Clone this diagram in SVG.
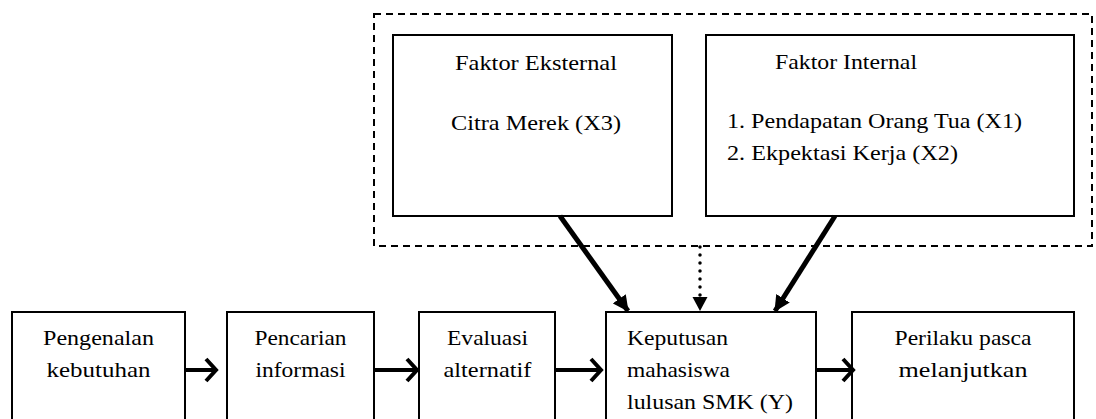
<svg xmlns="http://www.w3.org/2000/svg" width="1096" height="419" viewBox="0 0 1096 419">
<style>
.box{fill:#fff;stroke:#000;stroke-width:2}
.t{font-family:'Liberation Serif','Times New Roman',Times,serif;font-size:22px;fill:#000}
.m{text-anchor:middle}
.thick{stroke:#000;stroke-width:5;fill:none}
.h{stroke:#000;stroke-width:4;fill:none}
</style>
<defs>
<marker id="tri" markerUnits="userSpaceOnUse" markerWidth="18" markerHeight="16" refX="15" refY="8" orient="auto" viewBox="0 0 18 16">
<path d="M0,0 L16,8 L0,16 Z" fill="#000"/>
</marker>
<marker id="chev" markerUnits="userSpaceOnUse" markerWidth="16" markerHeight="26" refX="12" refY="13" orient="auto" viewBox="0 0 16 26">
<path d="M2,2 L12,13 L2,24" fill="none" stroke="#000" stroke-width="4"/>
</marker>
</defs>
<rect width="1096" height="419" fill="#fff"/>
<g id="group-factors">
<rect x="374" y="14" width="718" height="232" fill="none" stroke="#000" stroke-width="2" stroke-dasharray="7 5"/>
</g>
<g id="node-eksternal">
<rect class="box" x="393" y="35" width="279" height="181"/>
<text class="t m" x="536" y="70" textLength="162" lengthAdjust="spacingAndGlyphs">Faktor Eksternal</text>
<text class="t m" x="536" y="130" textLength="170" lengthAdjust="spacingAndGlyphs">Citra Merek (X3)</text>
</g>
<g id="node-internal">
<rect class="box" x="706" y="35" width="368" height="181"/>
<text class="t" x="775" y="69" textLength="142" lengthAdjust="spacingAndGlyphs">Faktor Internal</text>
<text class="t" x="727" y="128" textLength="295" lengthAdjust="spacingAndGlyphs">1. Pendapatan Orang Tua (X1)</text>
<text class="t" x="727" y="160" textLength="231" lengthAdjust="spacingAndGlyphs">2. Ekpektasi Kerja (X2)</text>
</g>
<g id="node-pengenalan">
<rect class="box" x="12" y="312" width="173" height="120"/>
<text class="t m" x="98.5" y="345" textLength="111" lengthAdjust="spacingAndGlyphs">Pengenalan</text>
<text class="t m" x="98.5" y="377" textLength="104" lengthAdjust="spacingAndGlyphs">kebutuhan</text>
</g>
<g id="node-pencarian">
<rect class="box" x="227" y="312" width="147" height="120"/>
<text class="t m" x="300.5" y="345" textLength="92" lengthAdjust="spacingAndGlyphs">Pencarian</text>
<text class="t m" x="300.5" y="377" textLength="90" lengthAdjust="spacingAndGlyphs">informasi</text>
</g>
<g id="node-evaluasi">
<rect class="box" x="419" y="312" width="136" height="120"/>
<text class="t m" x="487.5" y="345" textLength="81" lengthAdjust="spacingAndGlyphs">Evaluasi</text>
<text class="t m" x="487.5" y="377" textLength="88" lengthAdjust="spacingAndGlyphs">alternatif</text>
</g>
<g id="node-keputusan">
<rect class="box" x="606" y="312" width="210" height="120"/>
<text class="t" x="627" y="345" textLength="101" lengthAdjust="spacingAndGlyphs">Keputusan</text>
<text class="t" x="627" y="377" textLength="103" lengthAdjust="spacingAndGlyphs">mahasiswa</text>
<text class="t" x="627" y="409" textLength="166" lengthAdjust="spacingAndGlyphs">lulusan SMK (Y)</text>
</g>
<g id="node-perilaku">
<rect class="box" x="852" y="312" width="222" height="120"/>
<text class="t m" x="963" y="345" textLength="137" lengthAdjust="spacingAndGlyphs">Perilaku pasca</text>
<text class="t m" x="963" y="377" textLength="129" lengthAdjust="spacingAndGlyphs">melanjutkan</text>
</g>
<g id="connectors">
<line class="thick" x1="560" y1="216" x2="628" y2="311" marker-end="url(#tri)"/>
<line class="thick" x1="835" y1="216" x2="775" y2="311" marker-end="url(#tri)"/>
<line x1="700" y1="247" x2="700" y2="300" stroke="#000" stroke-width="3.5" stroke-linecap="round" stroke-dasharray="0 8"/>
<path d="M692.5,297 L707.5,297 L700,311 Z" fill="#000"/>
<line class="h" x1="185" y1="370" x2="216" y2="370" marker-end="url(#chev)"/>
<line class="h" x1="374" y1="370" x2="417" y2="370" marker-end="url(#chev)"/>
<line class="h" x1="555" y1="370" x2="601" y2="370" marker-end="url(#chev)"/>
<line class="h" x1="816" y1="370" x2="853" y2="370" marker-end="url(#chev)"/>
</g>
</svg>
